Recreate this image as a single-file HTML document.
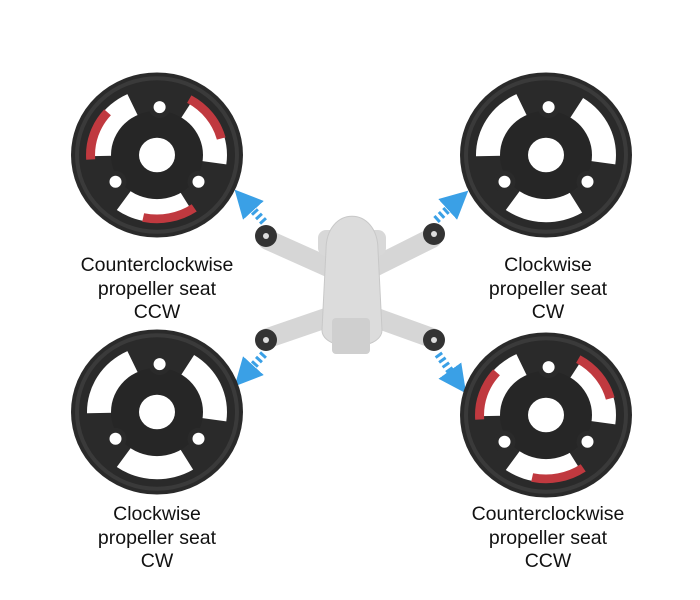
<!DOCTYPE html>
<html><head><meta charset="utf-8"><style>
html,body{margin:0;padding:0;background:#fff;width:700px;height:600px;overflow:hidden}
#c{position:absolute;left:0;top:0}
.l{position:absolute;width:240px;text-align:center;font-family:"Liberation Sans",sans-serif;font-size:19.5px;line-height:23.5px;color:#111}
</style></head><body>
<svg id="c" width="700" height="600" viewBox="0 0 700 600" xmlns="http://www.w3.org/2000/svg">
<defs>
<marker id="ah" viewBox="0 0 10 10" refX="5" refY="5" markerWidth="3.5" markerHeight="3.5" orient="auto"><path d="M0,0L10,5L0,10z" fill="#3aa0e6"/></marker>
</defs>
<g id="drone">
<g stroke="#d6d6d6" stroke-width="20" stroke-linecap="round">
<line x1="268" y1="240" x2="335" y2="270"/>
<line x1="432" y1="238" x2="368" y2="270"/>
<line x1="268" y1="338" x2="335" y2="315"/>
<line x1="432" y1="338" x2="368" y2="315"/>
</g>
<rect x="318" y="230" width="68" height="26" rx="8" fill="#d8d8d8"/>
<path d="M326,250 C326,205 378,205 378,250 L382,330 C382,352 322,352 322,330 Z" fill="#dcdcdc" stroke="#c8c8c8"/>
<rect x="332" y="318" width="38" height="36" rx="4" fill="#cfcfcf"/>
<g fill="#333"><circle cx="266" cy="236" r="11"/><circle cx="434" cy="234" r="11"/><circle cx="266" cy="340" r="11"/><circle cx="434" cy="340" r="11"/></g>
<g fill="#ddd"><circle cx="266" cy="236" r="3"/><circle cx="434" cy="234" r="3"/><circle cx="266" cy="340" r="3"/><circle cx="434" cy="340" r="3"/></g>
</g>
<g stroke="#3aa0e6" stroke-width="8" stroke-dasharray="3 3" marker-end="url(#ah)">
<line x1="264" y1="222" x2="244" y2="200"/>
<line x1="436" y1="220" x2="458" y2="200"/>
<line x1="264" y1="354" x2="244" y2="376"/>
<line x1="438" y1="354" x2="458" y2="382"/>
</g>
<g id="discs"></g>
</svg>
<div class="l" style="left:37px;top:254px">Counterclockwise<br>propeller seat<br>CCW</div>
<div class="l" style="left:428px;top:254px">Clockwise<br>propeller seat<br>CW</div>
<div class="l" style="left:37px;top:503px">Clockwise<br>propeller seat<br>CW</div>
<div class="l" style="left:428px;top:503px">Counterclockwise<br>propeller seat<br>CCW</div>
<script>
function P(cx,cy,a,r,sy){var t=a*Math.PI/180;return (cx+r*Math.cos(t)).toFixed(1)+","+(cy+r*Math.sin(t)*sy).toFixed(1);}
function sector(cx,cy,r1,r2,a1,a2,sy){return "M"+P(cx,cy,a1,r2,sy)+"A"+r2+","+(r2*sy)+" 0 0 1 "+P(cx,cy,a2,r2,sy)+"L"+P(cx,cy,a2,r1,sy)+"A"+r1+","+(r1*sy)+" 0 0 0 "+P(cx,cy,a1,r1,sy)+"Z";}
function disc(cx,cy,red){var sy=0.96,s="";
s+='<ellipse cx="'+cx+'" cy="'+cy+'" rx="86" ry="'+86*sy+'" fill="#2a2a2a"/>';
s+='<ellipse cx="'+cx+'" cy="'+cy+'" rx="80" ry="'+80*sy+'" fill="none" stroke="#3a3a3a" stroke-width="4"/>';
[212,335,92].forEach(function(c){s+='<path d="'+sector(cx,cy,44,70,c-33,c+33,sy)+'" fill="#fff"/>';
if(red)s+='<path d="'+sector(cx,cy,62,71,c-36,c+10,sy)+'" fill="#c0393f"/>';});
s+='<ellipse cx="'+cx+'" cy="'+cy+'" rx="46" ry="'+46*sy+'" fill="#262626"/>';
s+='<ellipse cx="'+cx+'" cy="'+cy+'" rx="18" ry="'+18*sy+'" fill="#fff"/>';
[273,146,34].forEach(function(a){var p=P(cx,cy,a,50,sy).split(",");
s+='<circle cx="'+p[0]+'" cy="'+p[1]+'" r="11" fill="#2a2a2a"/><circle cx="'+p[0]+'" cy="'+p[1]+'" r="6" fill="#fff"/>';});
return s;}
document.getElementById("discs").innerHTML=disc(157,155,true)+disc(546,155,false)+disc(157,412,false)+disc(546,415,true);
</script>
</body></html>
